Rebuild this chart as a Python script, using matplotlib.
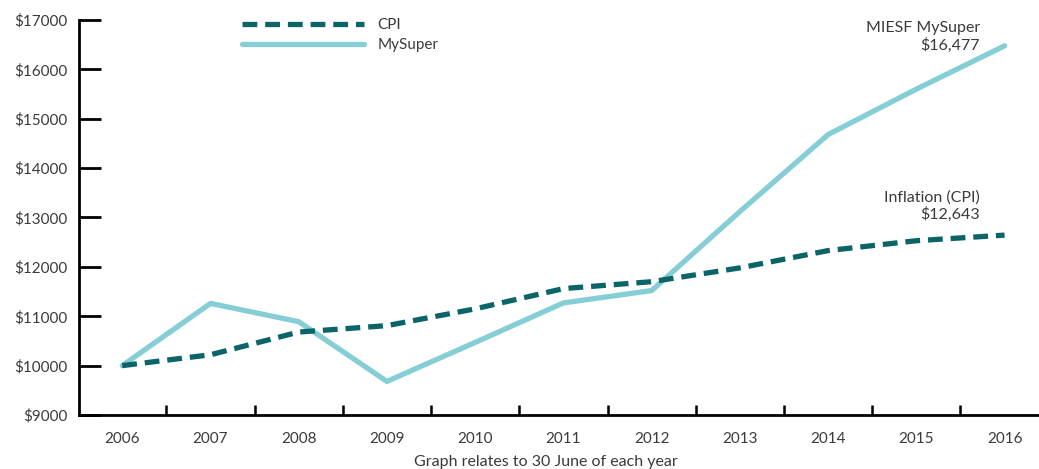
import matplotlib
matplotlib.use("Agg")
import matplotlib.pyplot as plt

years = [2006, 2007, 2008, 2009, 2010, 2011, 2012, 2013, 2014, 2015, 2016]
cpi = [10000, 10220, 10680, 10810, 11150, 11560, 11700, 11980, 12330, 12530, 12643]
mysuper = [10000, 11260, 10890, 9680, 10470, 11270, 11520, 13120, 14680, 15600, 16477]
yticks = [9000, 10000, 11000, 12000, 13000, 14000, 15000, 16000, 17000]

plt.rcParams["font.family"] = ["Lato", "DejaVu Sans"]
txt = "#3a3a3a"
c_cpi = "#0b6568"
c_ms = "#86ced6"

fig = plt.figure(figsize=(10.39, 4.69), dpi=100)
ax = fig.add_axes([79 / 1039, 1 - 415 / 469, 1 - 79 / 1039, (415 - 20) / 469])

ax.plot(years, mysuper, color=c_ms, lw=3.8, solid_capstyle="round", label="MySuper", zorder=2)
ax.plot(years, cpi, color=c_cpi, lw=3.8, dashes=(2.8, 1.5), label="CPI", zorder=3)

ax.set_xlim(2005.51, 2016.39)
ax.set_ylim(9000, 17000)
ax.set_yticks(yticks)
ax.set_yticklabels([f"${v}" for v in yticks], color=txt, fontsize=11)
ax.set_xticks(years)
ax.set_xticklabels([str(y) for y in years], color=txt, fontsize=11)
ax.set_xticks([y + 0.5 for y in years[:-1]], minor=True)
ax.tick_params(axis="y", direction="in", length=16, width=2, pad=8)
ax.tick_params(axis="x", which="major", length=0, pad=12)
ax.tick_params(axis="x", which="minor", direction="in", length=7, width=1.8)
for s in ["top", "right"]:
    ax.spines[s].set_visible(False)
ax.spines["left"].set_linewidth(2)
ax.spines["bottom"].set_linewidth(2)
ax.set_xlabel("Graph relates to 30 June of each year", color=txt, fontsize=11.5, labelpad=6)
ax.xaxis.set_label_coords((546 - 79) / (1039 - 79), -0.1)

h, l = ax.get_legend_handles_labels()
ax.legend(h[::-1], l[::-1], loc="upper left", bbox_to_anchor=(0.155, 1.04), frameon=False,
          handlelength=8.0, handletextpad=0.9, fontsize=11, labelcolor=txt, labelspacing=0.4)

ax.text(2015.72, 16330, "MIESF MySuper\n$16,477", ha="right", va="bottom", color=txt,
        fontsize=11.5, linespacing=1.25)
ax.text(2015.72, 12920, "Inflation (CPI)\n$12,643", ha="right", va="bottom", color=txt,
        fontsize=11.5, linespacing=1.15)

fig.savefig("out.png", dpi=100)
